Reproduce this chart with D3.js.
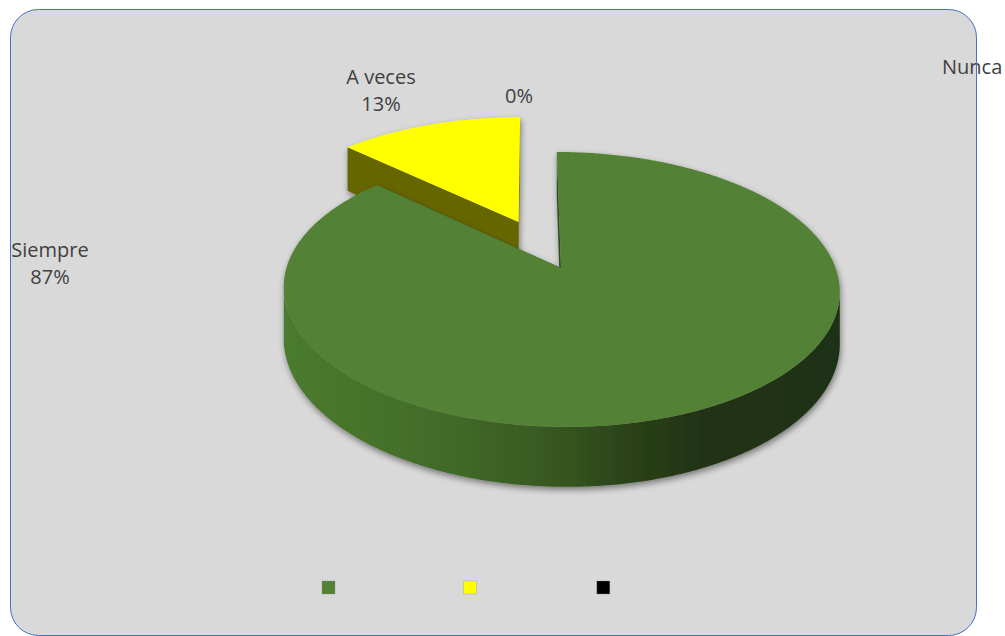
<!DOCTYPE html>
<html>
<head>
<meta charset="utf-8">
<script src="https://cdn.jsdelivr.net/npm/d3@7"></script>
<style>
  body { margin: 0; background: #fff; }
  svg { display: block; }
  text { font-family: "Open Sans", sans-serif; font-size: 20px; fill: #404040; }
</style>
</head>
<body>
<div id="chart"></div>
<script>
// data
var categories = ["Siempre", "A veces", "Nunca"];
var values = [87, 13, 0];
var percentLabels = ["87%", "13%", "0%"];

// styles
var topColors = ["#538135", "#ffff00", "#000000"];
var cutColors = ["#2f4a1f", "#666600", "#000000"];
var explode = [0, 0.395, 0];

var width = 1005, height = 636;

/* perspective for the tilted pie */
var persp = 0.156, vx = 530, ox = 31, cy = 268, rx = 274.6, ry = 134.1, depth = 50.6;
function project(X, Z, bottom) {
    var s = 1 / (1 - persp * Z);
    return [vx + (ox + rx * X) * s, cy + ry * Z * s + (bottom ? depth * s : 0)];
}
function rim(a, off, bottom) {
    return project(off[0] + Math.sin(a), off[1] - Math.cos(a), bottom);
}
function arcPoints(a1, a2, off, bottom) {
    var n = Math.max(2, Math.ceil(Math.abs(a2 - a1) / 0.01));
    var pts = [];
    for (var i = 0; i <= n; i++) {
        pts.push(rim(a1 + (a2 - a1) * i / n, off, bottom));
    }
    return pts;
}

var svg = d3.select("#chart").append("svg")
    .attr("width", width)
    .attr("height", height);

var defs = svg.append("defs");
var grad = defs.append("linearGradient")
    .attr("id", "wallGrad")
    .attr("gradientUnits", "userSpaceOnUse")
    .attr("x1", 284).attr("x2", 840).attr("y1", 0).attr("y2", 0);
[[0, "#4b7b2e"], [0.3, "#416a28"], [0.5, "#36561f"], [0.62, "#2a4219"], [0.75, "#213317"], [1, "#1f3014"]]
    .forEach(function(s) {
        grad.append("stop").attr("offset", s[0]).attr("stop-color", s[1]);
    });
var f = defs.append("filter").attr("id", "shadow")
    .attr("x", "-10%").attr("y", "-10%").attr("width", "120%").attr("height", "130%");
f.append("feDropShadow")
    .attr("dx", 1).attr("dy", 3).attr("stdDeviation", 3)
    .attr("flood-color", "#000").attr("flood-opacity", 0.45);

// chart area
svg.append("rect")
    .attr("x", 10.5).attr("y", 9.5)
    .attr("width", 966).attr("height", 626)
    .attr("rx", 28).attr("ry", 28)
    .attr("fill", "#d9d9d9");

var pie = d3.pie().sort(null).startAngle(0).endAngle(2 * Math.PI);
var arcs = pie(values).map(function(d, i) {
    var mid = (d.startAngle + d.endAngle) / 2;
    d.off = [explode[i] * Math.sin(mid), -explode[i] * Math.cos(mid)];
    d.i = i;
    return d;
}).filter(function(d) { return d.value > 0; });

// far slices first
arcs.sort(function(a, b) { return a.off[1] - b.off[1]; });

var line = d3.line();
var visLeft = Math.acos(-persp), visRight = 2 * Math.PI - Math.acos(-persp);

arcs.forEach(function(d) {
    var g = svg.append("g").attr("filter", "url(#shadow)");
    var apexTop = project(d.off[0], d.off[1], false);
    var apexBot = project(d.off[0], d.off[1], true);

    // cut faces
    [d.endAngle, d.startAngle].forEach(function(a) {
        g.append("path")
            .attr("d", line([apexTop, rim(a, d.off, false), rim(a, d.off, true), apexBot]) + "Z")
            .attr("fill", cutColors[d.i]);
    });

    // outer wall (near side only)
    var a1 = Math.max(d.startAngle, visLeft), a2 = Math.min(d.endAngle, visRight);
    if (a2 > a1) {
        var pts = arcPoints(a1, a2, d.off, false).concat(arcPoints(a2, a1, d.off, true));
        g.append("path")
            .attr("d", line(pts) + "Z")
            .attr("fill", d.i === 0 ? "url(#wallGrad)" : cutColors[d.i]);
    }

    // top face
    g.append("path")
        .attr("d", line([apexTop].concat(arcPoints(d.startAngle, d.endAngle, d.off, false))) + "Z")
        .attr("fill", topColors[d.i]);
});

// data labels
var labelLayout = [
    {x: 50, y: 257, anchor: "middle", lines: [categories[0], percentLabels[0]]},
    {x: 381, y: 84, anchor: "middle", lines: [categories[1], percentLabels[1]]},
    {x: 942, y: 74, anchor: "start", lines: [categories[2]]},
    {x: 519, y: 103, anchor: "middle", lines: [percentLabels[2]]}
];
labelLayout.forEach(function(l) {
    var t = svg.append("text")
        .attr("x", l.x).attr("y", l.y)
        .attr("text-anchor", l.anchor);
    l.lines.forEach(function(s, k) {
        t.append("tspan").attr("x", l.x).attr("dy", k === 0 ? 0 : 27).text(s);
    });
});

// legend: the names take space but are not shown
var legendX = 322, legendY = 581, box = 13;
var probe = svg.append("text");
categories.forEach(function(c, i) {
    svg.append("rect")
        .attr("x", legendX).attr("y", legendY)
        .attr("width", box).attr("height", box)
        .attr("fill", topColors[i])
        .attr("stroke", "#8a8a8a").attr("stroke-opacity", 0.4).attr("stroke-width", 0.8);
    probe.text(c);
    legendX += box + 5 + probe.node().getComputedTextLength() + 46;
});
probe.remove();

// border on top
svg.append("rect")
    .attr("x", 10.5).attr("y", 9.5)
    .attr("width", 966).attr("height", 626)
    .attr("rx", 28).attr("ry", 28)
    .attr("fill", "none")
    .attr("stroke", "#4472c4")
    .attr("stroke-width", 1);
</script>
</body>
</html>
